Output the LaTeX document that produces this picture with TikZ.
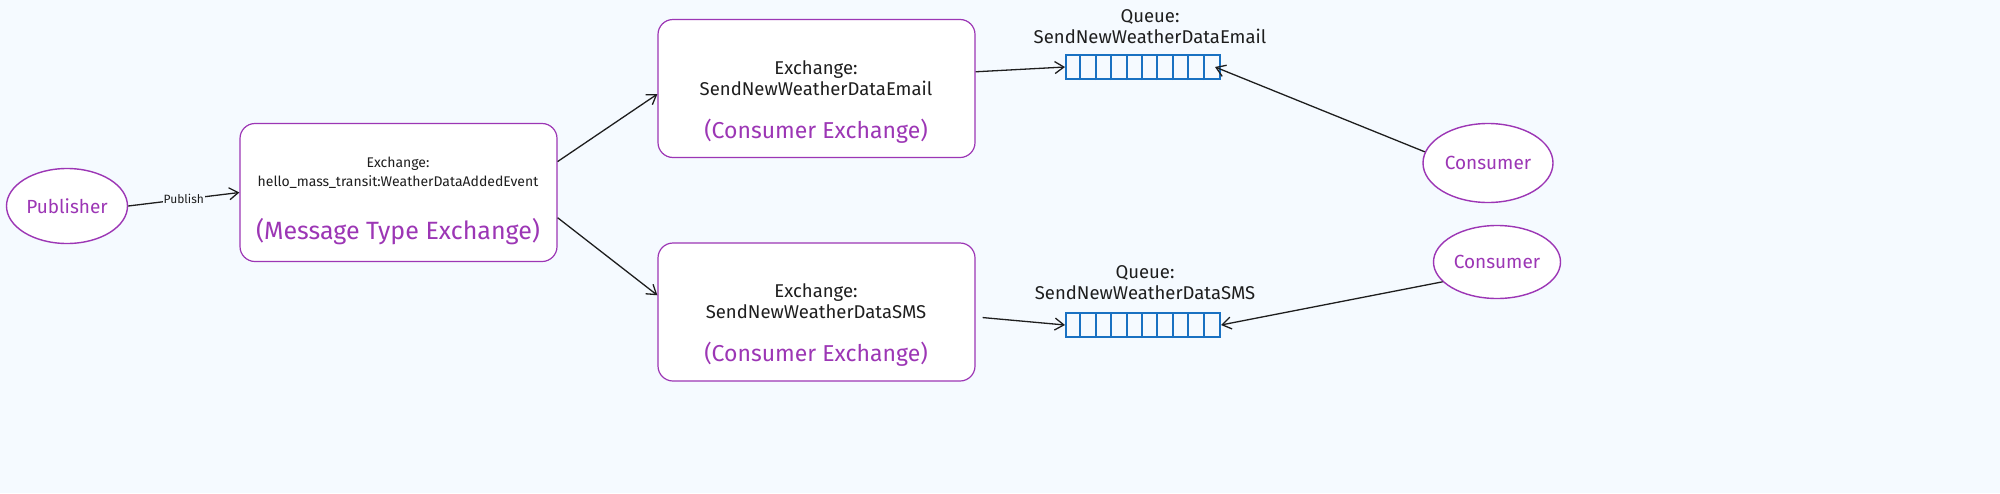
\documentclass[tikz,border=0pt]{standalone}
\usepackage{fontspec}
\setmainfont{Fira Sans}
\usetikzlibrary{shapes.geometric,arrows.meta}
\definecolor{bgblue}{HTML}{F5FAFF}
\definecolor{purp}{HTML}{9C36B5}
\definecolor{qblue}{HTML}{1971C2}
\definecolor{ink}{HTML}{1E1E1E}

\begin{document}
\begin{tikzpicture}[x=1pt, y=-1pt,
	actor/.style={ellipse, draw=purp, fill=white, line width=1.4pt, text=purp, font=\fontsize{19}{22}\selectfont, inner sep=0pt},
	exbox/.style={draw=purp, fill=white, line width=1.2pt, rounded corners=15pt, minimum width=317pt, minimum height=138pt},
	extitle/.style={align=center, text=ink, font=\fontsize{18.5}{21}\selectfont},
	extype/.style={text=purp, font=\fontsize{23}{26}\selectfont},
	queue/.style={draw=qblue, line width=2pt, minimum width=154pt, minimum height=24pt, inner sep=0pt},
	arr/.style={-{Straight Barb[length=9pt,width=12pt]}, draw=ink, line width=1.3pt}]
	\useasboundingbox (0,0) rectangle (2000,493);
	\fill[bgblue] (0,0) rectangle (2000,493);
	% publisher and message type exchange
	\node[actor, minimum width=121pt, minimum height=75pt] (pub) at (67,206) {Publisher};
	\node[exbox] (mt) at (398.5,192.5) {};
	\node[extitle, font=\fontsize{14}{19}\selectfont] (mttitle) at (398,173) {Exchange:\\hello\_mass\_transit:WeatherDataAddedEvent};
	\node[extype, font=\fontsize{25}{28}\selectfont] (mttype) at (398,232) {(Message Type Exchange)};
	% consumer exchanges
	\node[exbox] (exmail) at (816.5,88.5) {};
	\node[extitle] (exmailtitle) at (816,78) {Exchange:\\SendNewWeatherDataEmail};
	\node[extype] (exmailtype) at (816,131) {(Consumer Exchange)};
	\node[exbox] (exsms) at (816.5,312) {};
	\node[extitle] (exsmstitle) at (816,301) {Exchange:\\SendNewWeatherDataSMS};
	\node[extype] (exsmstype) at (816,354) {(Consumer Exchange)};
	% queues
	\node[queue] (qmail) at (1143,67) {};
	\node[extitle] (qmaillabel) at (1150,27) {Queue:\\SendNewWeatherDataEmail};
	\node[queue] (qsms) at (1143,325) {};
	\node[extitle] (qsmslabel) at (1145,283) {Queue:\\SendNewWeatherDataSMS};
	\foreach \q in {qmail,qsms}
		\foreach \i in {1,...,9}
			\draw[qblue, line width=2pt] ([xshift=\i*15.4pt]\q.south west) -- ([xshift=\i*15.4pt]\q.north west);
	% consumers
	\node[actor, minimum width=130pt, minimum height=79pt] (cmail) at (1488,163) {Consumer};
	\node[actor, minimum width=127pt, minimum height=73pt] (csms) at (1497,262) {Consumer};
	% connectors
	\draw[arr] (pub.east) -- node[midway, fill=bgblue, inner sep=1pt, text=ink, font=\fontsize{12}{14}\selectfont] {Publish} (mt.west);
	\draw[arr] (mt.11) -- (exmail.182);
	\draw[arr] (mt.-9) -- (exsms.174);
	\draw[arr] (exmail.6) -- (qmail.west);
	\draw[arr] ([xshift=7pt]exsms.-2) -- (qsms.west);
	\draw[arr] (cmail.170) -- ([xshift=-6pt]qmail.east);
	\draw[arr] (csms.200) -- (qsms.east);
\end{tikzpicture}
\end{document}
